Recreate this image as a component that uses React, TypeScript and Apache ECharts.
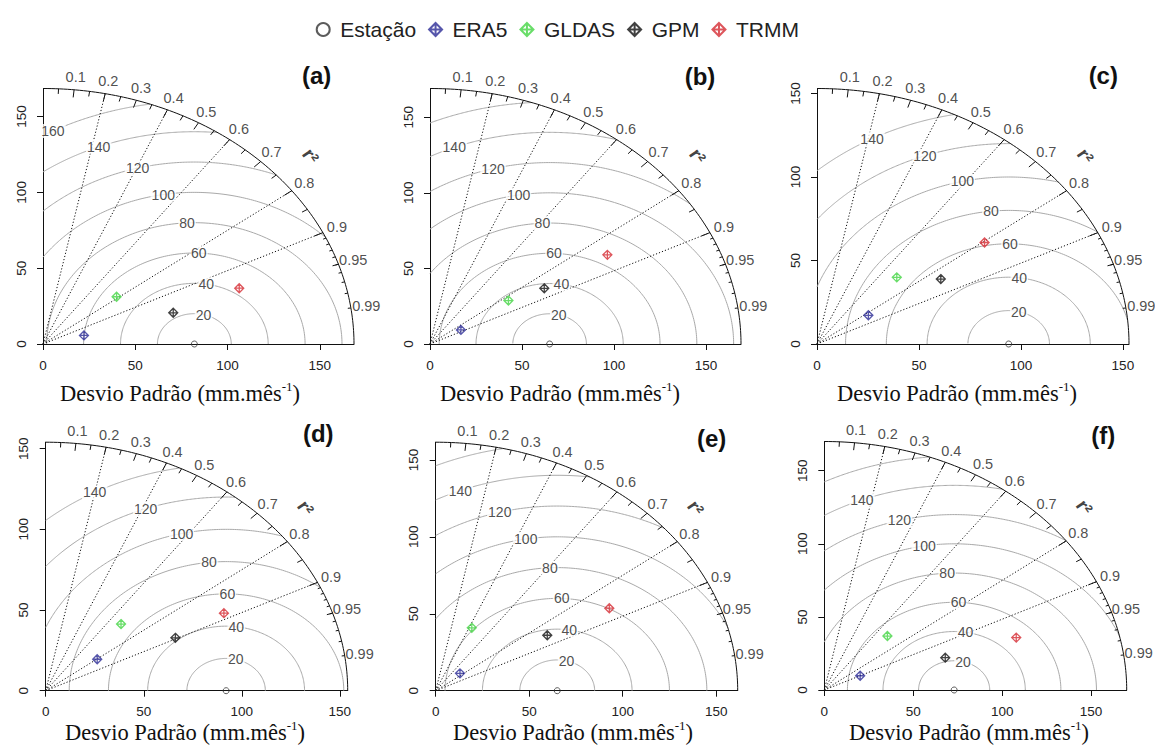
import React, { useEffect, useRef } from 'react';
import * as echarts from 'echarts';

// ---------- data ----------
const panelLabels = ['(a)', '(b)', '(c)', '(d)', '(e)', '(f)'];
const maxSd = [168.5, 169, 153, 154, 161.5, 170];
const refSd = [82, 65, 94, 92, 65, 73]; // Estação
const rmsLong = [20, 40, 60, 80, 100, 120, 140, 160];
const rmsShort = [20, 40, 60, 80, 100, 120, 140];
const rmsLevels = [rmsLong, rmsLong, rmsShort, rmsShort, rmsLong, rmsLong];
const corrLabels = [0.1, 0.2, 0.3, 0.4, 0.5, 0.6, 0.7, 0.8, 0.9, 0.95, 0.99];
const corrBigTicks = [0.1, 0.2, 0.3, 0.4, 0.5, 0.6, 0.7, 0.8, 0.9];
const corrMedTicks = [0.05, 0.15, 0.25, 0.35, 0.45, 0.55, 0.65, 0.75, 0.85, 0.95];
const corrSmallTicks = [0.91, 0.92, 0.93, 0.94, 0.95, 0.96, 0.97, 0.98, 0.99];
const corrLines = [0.2, 0.4, 0.6, 0.8, 0.9];
const axisTickValues = [0, 50, 100, 150];

const modelNames = ['ERA5', 'GLDAS', 'GPM', 'TRMM'];
const sdERA5 = [22.9, 19.2, 30.5, 32.7, 17.2, 22.4];
const corERA5 = [0.969, 0.875, 0.826, 0.803, 0.755, 0.9];
const sdGLDAS = [50.6, 51.4, 55.9, 56.4, 45.2, 51.2];
const corGLDAS = [0.788, 0.829, 0.7, 0.681, 0.427, 0.693];
const sdGPM = [73.5, 72.2, 72.1, 73.8, 69.7, 71.5];
const corGPM = [0.96, 0.86, 0.842, 0.896, 0.856, 0.951];
const sdTRMM = [112.5, 113, 102.2, 102.8, 107.2, 113.7];
const corTRMM = [0.945, 0.853, 0.804, 0.884, 0.866, 0.949];
const modelSd = [sdERA5, sdGLDAS, sdGPM, sdTRMM];
const modelCor = [corERA5, corGLDAS, corGPM, corTRMM];

// ---------- style / layout ----------
const modelColors = ['#2c2c96', '#44d444', '#111111', '#d42a32'];
const gridRects = [
  { left: 43, top: 88.5, width: 311, height: 255.5 },
  { left: 430, top: 88.5, width: 311, height: 255.5 },
  { left: 817, top: 88.5, width: 312, height: 255.5 },
  { left: 45.7, top: 442.2, width: 302, height: 248.5 },
  { left: 435.7, top: 442.2, width: 302, height: 248.5 },
  { left: 824.3, top: 441.5, width: 302.4, height: 248.5 },
];
const panelLabelPos = [
  [316.7, 75], [700, 76.7], [1103.3, 75],
  [318.3, 433.3], [711.7, 438.3], [1103.3, 435],
];
const titlePos = [[180, 393], [560, 393], [957, 393], [185, 732], [573, 732], [969, 732]];
const diamondPlus = 'path://M5,0L10,5L5,10L0,5Z M5,0L5,10 M0,5L10,5';
const SANS = 'Liberation Sans, Arial, sans-serif';
const SERIF = 'Liberation Serif, Times New Roman, serif';

function buildOption() {
  const grid: any[] = [];
  const xAxis: any[] = [];
  const yAxis: any[] = [];
  const series: any[] = [];
  const graphic: any[] = [];

  for (let i = 0; i < 6; i++) {
    const R = maxSd[i];
    const ref = refSd[i];
    const ax = { xAxisIndex: i, yAxisIndex: i };
    grid.push({ ...gridRects[i], containLabel: false });
    const common = {
      gridIndex: i,
      type: 'value',
      min: 0,
      max: R,
      splitLine: { show: false },
      axisLine: { show: true, onZero: false, lineStyle: { color: '#111', width: 1 } },
      axisTick: { show: true, customValues: axisTickValues, length: 6, lineStyle: { color: '#111' } },
    };
    xAxis.push({
      ...common,
      axisLabel: { customValues: axisTickValues, fontSize: 13.5, color: '#222', margin: 14, fontFamily: SANS },
    });
    yAxis.push({
      ...common,
      axisLabel: { customValues: axisTickValues, fontSize: 13.5, color: '#222', margin: 15, rotate: 90, fontFamily: SANS },
    });

    // RMS contours
    const levels = rmsLevels[i];
    levels.forEach((g) => {
      const v = (R * R - ref * ref - g * g) / (2 * ref * g);
      const ts = v >= 1 ? 0 : v <= -1 ? Math.PI : Math.acos(v);
      const te = g > ref ? Math.acos(-ref / g) : Math.PI;
      if (ts >= te) return;
      const pts: number[][] = [];
      const n = 160;
      for (let k = 0; k <= n; k++) {
        const t = ts + ((te - ts) * k) / n;
        pts.push([ref + g * Math.cos(t), g * Math.sin(t)]);
      }
      series.push({
        type: 'line', ...ax, data: pts, symbol: 'none', silent: true, z: 1, clip: false,
        lineStyle: { color: '#a9a9a9', width: 1 },
      });
    });
    // contour labels (plotrix label positions)
    const nl = levels.length;
    const labData: any[] = [];
    levels.forEach((g, j) => {
      const idx = Math.floor(45 + (25 * j) / (nl - 1));
      const t = (idx - 1) * 0.03;
      const x = ref + g * Math.cos(t);
      if (x > 0) labData.push([x, g * Math.sin(t), g]);
    });
    series.push({
      type: 'scatter', ...ax, data: labData, symbolSize: 1, silent: true, z: 4, clip: false,
      itemStyle: { color: 'transparent' },
      label: {
        show: true, position: 'inside', formatter: (p: any) => String(p.value[2]),
        fontSize: 14, color: '#222', fontFamily: SANS, backgroundColor: '#fff', padding: [0, 1],
      },
    });

    // dotted correlation lines
    series.push({
      type: 'lines', coordinateSystem: 'cartesian2d', ...ax, silent: true, z: 2,
      lineStyle: { color: '#111', width: 1, type: [1.2, 2], opacity: 1 },
      data: corrLines.map((c) => ({ coords: [[0, 0], [R * c, R * Math.sqrt(1 - c * c)]] })),
    });

    // outer arc
    const arc: number[][] = [];
    for (let k = 0; k <= 120; k++) {
      const t = (Math.PI / 2) * (k / 120);
      arc.push([R * Math.cos(t), R * Math.sin(t)]);
    }
    series.push({
      type: 'line', ...ax, data: arc, symbol: 'none', silent: true, z: 5, clip: false,
      lineStyle: { color: '#111', width: 1 },
    });

    // correlation ticks (custom series, placed through the axes)
    const tickData: number[][] = [];
    corrBigTicks.forEach((c) => tickData.push([c, 0.97]));
    corrMedTicks.forEach((c) => tickData.push([c, 0.98]));
    corrSmallTicks.forEach((c) => tickData.push([c, 0.99]));
    series.push({
      type: 'custom', ...ax, silent: true, z: 5, clip: false,
      data: tickData,
      renderItem: (_params: any, api: any) => {
        const c = api.value(0);
        const f = api.value(1);
        const s = Math.sqrt(1 - c * c);
        const p1 = api.coord([R * c, R * s]);
        const p2 = api.coord([R * f * c, R * f * s]);
        return {
          type: 'line',
          shape: { x1: p1[0], y1: p1[1], x2: p2[0], y2: p2[1] },
          style: { stroke: '#111', lineWidth: 1 },
        };
      },
    });

    // correlation labels
    series.push({
      type: 'scatter', ...ax, symbolSize: 1, silent: true, z: 5, clip: false,
      itemStyle: { color: 'transparent' },
      data: corrLabels.map((c) => [R * 1.05 * c, R * 1.05 * Math.sqrt(1 - c * c), c]),
      label: {
        show: true, position: 'inside', formatter: (p: any) => String(p.value[2]),
        fontSize: 14.5, color: '#222', fontFamily: SANS,
      },
    });

    // correlation axis label
    series.push({
      type: 'scatter', ...ax, symbolSize: 1, silent: true, z: 5, clip: false,
      itemStyle: { color: 'transparent' },
      data: [[R * 0.86, R * 0.735]],
      label: {
        show: true, position: 'inside', formatter: 'r²', rotate: -55,
        fontSize: 19, fontWeight: 'bold', color: '#111', fontFamily: SANS,
      },
    });

    // Estação
    series.push({
      type: 'scatter', name: 'Estação', ...ax, symbol: 'circle', symbolSize: 6, z: 8, clip: false,
      itemStyle: { color: 'transparent', borderColor: '#333', borderWidth: 1 },
      data: [[ref, 0]],
    });
    // models
    modelNames.forEach((name, m) => {
      const sd = modelSd[m][i];
      const c = modelCor[m][i];
      series.push({
        type: 'scatter', name, ...ax, symbol: diamondPlus, symbolSize: 9, z: 9, clip: false,
        itemStyle: { color: 'transparent', borderColor: modelColors[m], borderWidth: 1.3 },
        data: [[sd * c, sd * Math.sqrt(1 - c * c)]],
      });
    });

    graphic.push({
      type: 'text', x: panelLabelPos[i][0], y: panelLabelPos[i][1],
      style: {
        text: panelLabels[i], align: 'center', verticalAlign: 'middle',
        fontSize: 24, fontWeight: 'bold', fontFamily: SANS, fill: '#111',
      },
    });
    graphic.push({
      type: 'text', x: titlePos[i][0], y: titlePos[i][1],
      style: {
        text: '{a|Desvio Padrão (mm.mês}{s|-1}{a|)}', align: 'center', verticalAlign: 'middle',
        rich: {
          a: { fontSize: 22.5, fontFamily: SERIF, fill: '#111', color: '#111', lineHeight: 26 },
          s: { fontSize: 13, fontFamily: SERIF, fill: '#111', color: '#111', verticalAlign: 'top', lineHeight: 14 },
        },
      },
    });
  }

  return {
    animation: false,
    backgroundColor: '#fff',
    legend: {
      left: 310.7, top: 14, itemWidth: 24, itemHeight: 13, itemGap: 12,
      selectedMode: false,
      textStyle: { fontSize: 21, color: '#222', fontFamily: SANS },
      data: [
        { name: 'Estação', icon: 'circle' },
        ...modelNames.map((n) => ({ name: n, icon: diamondPlus })),
      ],
    },
    grid, xAxis, yAxis, series, graphic,
  };
}

export default function App() {
  const ref = useRef<HTMLDivElement>(null);
  useEffect(() => {
    document.body.style.margin = '0';
    const chart = echarts.init(ref.current!, null, { renderer: 'svg' });
    chart.setOption(buildOption() as any);
    return () => chart.dispose();
  }, []);
  return <div ref={ref} style={{ width: 1155, height: 746 }} />;
}
